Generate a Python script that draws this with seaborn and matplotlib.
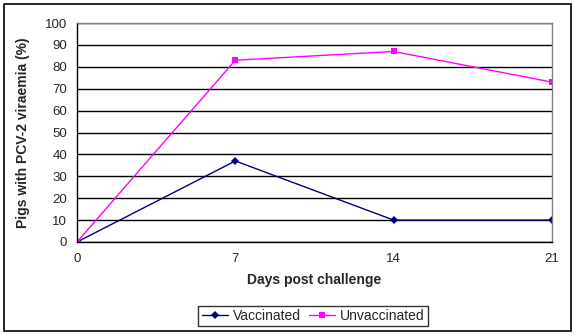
import matplotlib
matplotlib.use("Agg")
import matplotlib.pyplot as plt
import seaborn as sns
import pandas as pd
from matplotlib.patches import Rectangle
from matplotlib.lines import Line2D

days = [0, 7, 14, 21]
vaccinated = [0, 37, 10, 10]
unvaccinated = [0, 83, 87, 73]
series_names = ["Vaccinated", "Unvaccinated"]

df = pd.DataFrame({
    "day": days * 2,
    "value": vaccinated + unvaccinated,
    "group": [series_names[0]] * len(days) + [series_names[1]] * len(days),
})

sns.set_style("white")
plt.rcParams['font.family'] = ['Liberation Sans', 'DejaVu Sans']

fig = plt.figure(figsize=(5.76, 3.36), dpi=100)
ax = fig.add_axes([77/576, 1 - 242/336, (552-77)/576, (242-23)/336])

palette = {"Vaccinated": "#000080", "Unvaccinated": "#FF00FF"}
sns.lineplot(data=df, x="day", y="value", hue="group", style="group",
             markers={"Vaccinated": "D", "Unvaccinated": "s"},
             dashes=False, palette=palette, linewidth=1.0,
             markersize=4, markeredgewidth=0, ax=ax, legend=False)

ax.set_xlim(0, 21)
ax.set_ylim(0, 100)
ax.set_xticks(days)
ax.set_yticks(range(0, 101, 10))
ax.tick_params(axis='both', labelsize=9.5, length=4, width=0.8, direction='out',
               color='black', pad=3)
ax.tick_params(axis='x', pad=4)
ax.yaxis.grid(True, color='black', linewidth=1.0)
ax.set_axisbelow(True)
for s in ["left", "bottom"]:
    ax.spines[s].set_color("black")
    ax.spines[s].set_linewidth(1.0)
for s in ["top", "right"]:
    ax.spines[s].set_color("#808080")
    ax.spines[s].set_linewidth(1.0)
ax.set_xlabel("Days post challenge", fontsize=10, fontweight='bold', labelpad=6)
ax.set_ylabel("Pigs with PCV-2 viraemia (%)", fontsize=10, fontweight='bold', labelpad=11)

handles = [
    Line2D([], [], color="#000080", marker="D", markersize=4, markeredgewidth=0, linewidth=1.0),
    Line2D([], [], color="#FF00FF", marker="s", markersize=4, markeredgewidth=0, linewidth=1.0),
]
leg = fig.legend(handles, series_names, loc="center", bbox_to_anchor=(313/576, 1 - 316/336),
                 ncol=2, fontsize=10, frameon=True, fancybox=False, edgecolor="black",
                 handlelength=1.9, handletextpad=0.3, columnspacing=0.6,
                 borderpad=0.25, borderaxespad=0)
leg.get_frame().set_linewidth(1.0)

fig.patches.append(Rectangle((4/576, 1 - 331/336), (571-4)/576, (331-4)/336,
                             transform=fig.transFigure, fill=False,
                             edgecolor="black", linewidth=1.2))

fig.savefig("out.png", dpi=100)
